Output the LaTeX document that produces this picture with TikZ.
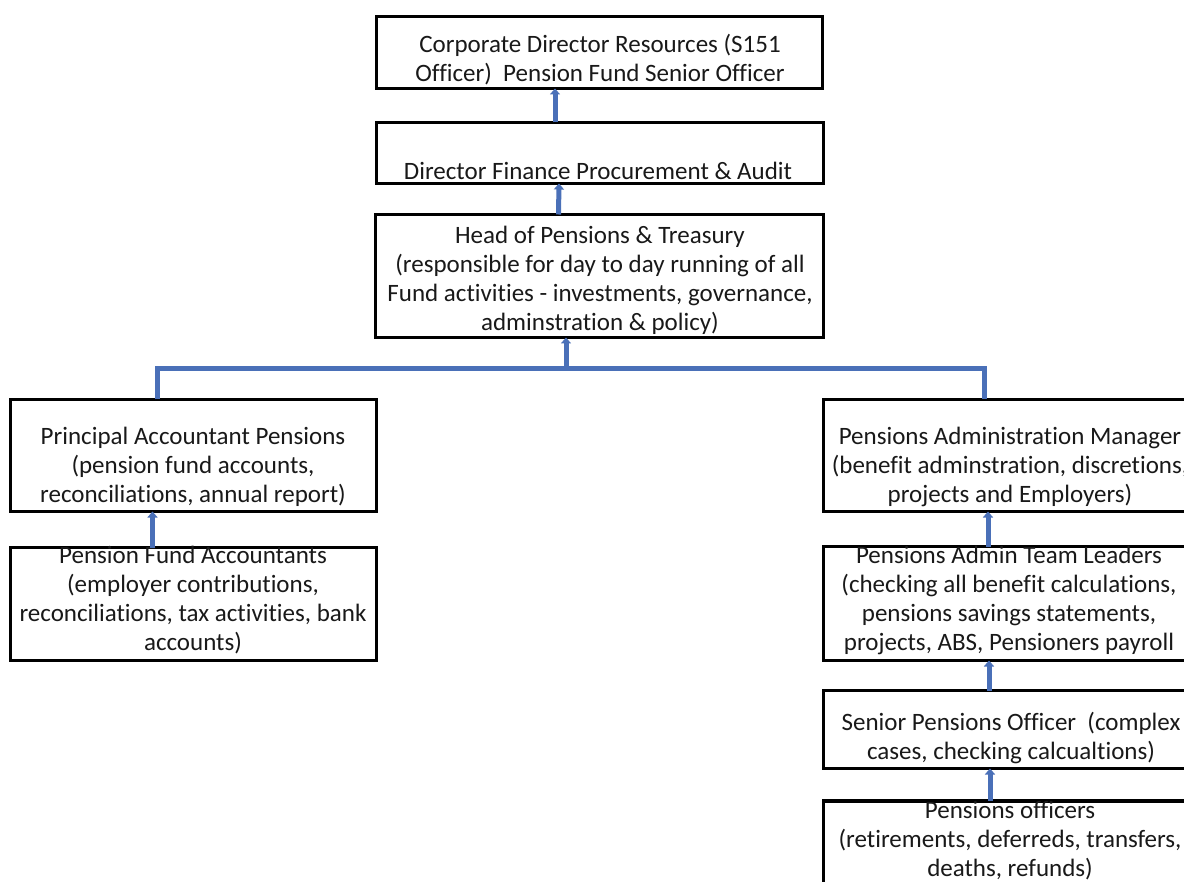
\documentclass[tikz,border=0pt]{standalone}
\usepackage{fontspec}
\setmainfont{Carlito}[Ligatures=NoCommon]
\usetikzlibrary{arrows.meta}
\definecolor{connblue}{HTML}{4A70B8}
\tikzset{
  box/.style={draw=black, line width=3.2pt, inner sep=0pt, outer sep=0pt, fill=white},
  lbl/.style={align=center, inner sep=0pt, font=\fontsize{25}{29}\selectfont, text=black!90},
  link/.style={draw=connblue, line width=5pt},
  uparrow/.style={link, -{Triangle[length=6pt,width=10pt]}},
}
\begin{document}
\begin{tikzpicture}[x=1pt,y=-1pt]
\useasboundingbox (0,0) rectangle (1184,882);
\fill[white] (0,0) rectangle (1184,882);
% boxes
\node[box, minimum width=446pt, minimum height=72pt] (b1) at (599.5,52.5) {};
\node[box, minimum width=447pt, minimum height=61pt] (b2) at (600,153) {};
\node[box, minimum width=448pt, minimum height=123pt] (b3) at (599.5,276) {};
\node[box, minimum width=366pt, minimum height=112pt] (l1) at (193.5,455.5) {};
\node[box, minimum width=366pt, minimum height=113pt] (l2) at (193.5,604) {};
\node[box, minimum width=373pt, minimum height=112pt] (r1) at (1010,455.5) {};
\node[box, minimum width=373pt, minimum height=114pt] (r2) at (1010,603.5) {};
\node[box, minimum width=373pt, minimum height=78pt] (r3) at (1010,729.5) {};
\node[box, minimum width=373pt, minimum height=108pt] (r4) at (1010,855) {};
% texts
\node[lbl] (t1) at (600,60) {Corporate Director Resources (S151\\Officer)\ \ Pension Fund Senior Officer};
\node[lbl] (t2) at (598,171) {Director Finance Procurement \& Audit};
\node[lbl] (t3) at (600,280) {Head of Pensions \& Treasury\\(responsible for day to day running of all\\Fund activities - investments, governance,\\adminstration \& policy)};
\node[lbl] (t4) at (193,467) {Principal Accountant Pensions\\(pension fund accounts,\\reconciliations, annual report)};
\node[lbl] (t5) at (193,600.5) {Pension Fund Accountants\\(employer contributions,\\reconciliations, tax activities, bank\\accounts)};
\node[lbl] (t6) at (1010,467) {Pensions Administration Manager\\(benefit adminstration, discretions,\\projects and Employers)};
\node[lbl] (t7) at (1009,600.5) {Pensions Admin Team Leaders\\(checking all benefit calculations,\\pensions savings statements,\\projects, ABS, Pensioners payroll};
\node[lbl] (t8) at (1011,738.5) {Senior Pensions Officer\ \ (complex\\cases, checking calcualtions)};
\node[lbl] (t9) at (1010,841) {Pensions officers\\(retirements, deferreds, transfers,\\deaths, refunds)};
% connectors
\draw[uparrow] ([xshift=-45pt]b2.north) -- ([xshift=-44.5pt]b1.south);
\draw[uparrow] ([xshift=-41pt]b3.north) -- ([xshift=-41pt]b2.south);
\coordinate (j) at (566,369);
\draw[link] ([xshift=-36pt]l1.north) |- (j) -| ([xshift=-26pt]r1.north);
\draw[uparrow] (j) -- (j |- b3.south);
\draw[uparrow] ([xshift=-41pt]l2.north) -- ([xshift=-41pt]l1.south);
\draw[uparrow] ([xshift=-22pt]r2.north) -- ([xshift=-22pt]r1.south);
\draw[uparrow] ([xshift=-21pt]r3.north) -- ([xshift=-21pt]r2.south);
\draw[uparrow] ([xshift=-20pt]r4.north) -- ([xshift=-20pt]r3.south);
\end{tikzpicture}
\end{document}
